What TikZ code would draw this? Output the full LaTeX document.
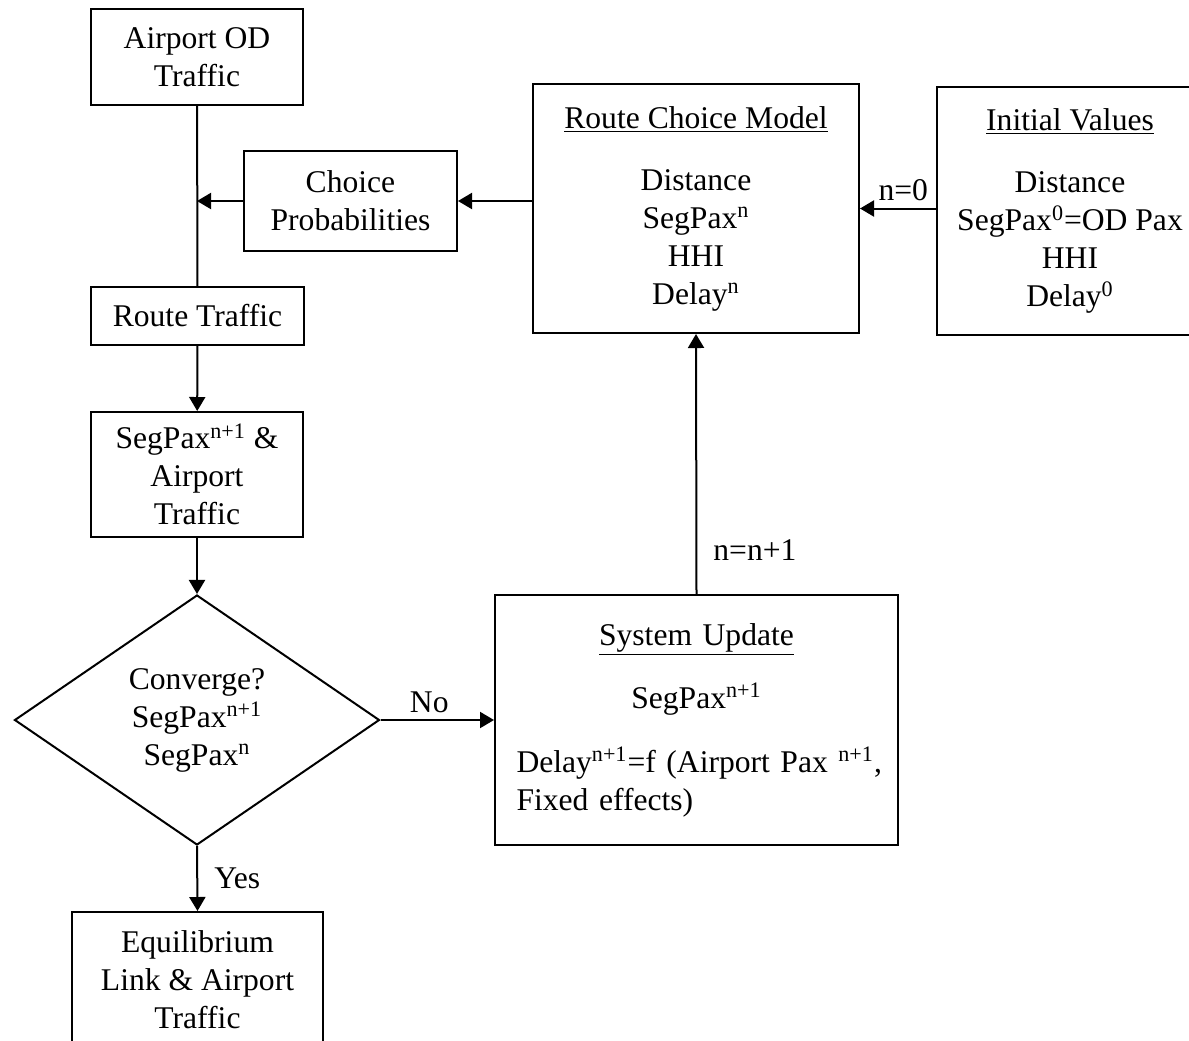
\documentclass[tikz,border=0pt]{standalone}
\usepackage{fontspec}
\setmainfont{Liberation Serif}
\usetikzlibrary{shapes.geometric,arrows.meta}

\tikzset{
  box/.style={draw,line width=1pt,align=center,inner sep=2pt},
  decide/.style={draw,line width=1pt,diamond,align=center,inner sep=0pt},
  flow/.style={line width=1pt,-{Triangle[length=7pt,width=8pt]}},
  link/.style={line width=1pt}
}

\begin{document}
\begin{tikzpicture}[x=0.5pt,y=-0.5pt,every node/.style={font=\fontsize{15.8}{19}\selectfont}]
\clip (0,0) rectangle (1189,1040);
% left column
\node[box,minimum width=106pt,minimum height=48pt] (od) at (197,57) {Airport OD\\Traffic};
\node[box,minimum width=106.5pt,minimum height=50pt] (cp) at (350.5,201) {Choice\\Probabilities};
\node[box,minimum width=106.5pt,minimum height=29pt] (rt) at (197.5,316) {Route Traffic};
\node[box,minimum width=106pt,minimum height=62.5pt] (seg) at (197,474.5) {SegPax\textsuperscript{n+1} \&\\Airport\\Traffic};
\node[decide,minimum width=182.5pt,minimum height=125pt] (conv) at (197,720) {Converge?\\SegPax\textsuperscript{n+1}\\SegPax\textsuperscript{n}};
\node[box,minimum width=125.5pt,minimum height=68pt] (eq) at (197.5,980) {Equilibrium\\Link \& Airport\\Traffic};
% right part
\node[box,minimum width=163pt,minimum height=124.5pt] (rc) at (696,208.5) {\underline{Route Choice Model}\\[12pt]Distance\\SegPax\textsuperscript{n}\\HHI\\Delay\textsuperscript{n}};
\node[box,minimum width=133pt,minimum height=124pt] (iv) at (1070,211) {\underline{Initial Values}\\[12pt]Distance\\SegPax\textsuperscript{0}=OD Pax\\HHI\\Delay\textsuperscript{0}};
\node[draw,line width=1pt,inner sep=2pt,minimum width=201.5pt,minimum height=125pt,text width=180pt] (upd) at (696.5,720)
  {\centering\underline{System Update}\\[12.5pt]SegPax\textsuperscript{n+1}\par\vspace{13pt}\raggedright
   \mbox{Delay\textsuperscript{n+1}=f (Airport Pax \textsuperscript{n+1},}\\Fixed effects)\par};
% connectors
\coordinate (junc) at (od.south |- cp.west);
\draw[link] (od) -- (rt);
\draw[flow] (cp.west) -- (junc);
\draw[flow] (rc.west |- cp.east) -- (cp.east);
\draw[flow] (iv.west |- rc.east) -- node[pos=0,above left,inner sep=3.5pt] (n0) {n=0} (rc.east);
\draw[flow] (rt) -- (seg);
\draw[flow] (seg) -- (conv);
\draw[flow] (conv.east) -- node[pos=0.43,above,inner sep=3pt] (no) {No} (upd.west);
\draw[flow] (conv.south) -- node[right,inner sep=8pt] (yes) {Yes} (eq.north);
\draw[flow] (upd.north) -- node[pos=0.17,right,inner sep=8pt] (inc) {n=n+1} (rc.south);
\end{tikzpicture}
\end{document}
